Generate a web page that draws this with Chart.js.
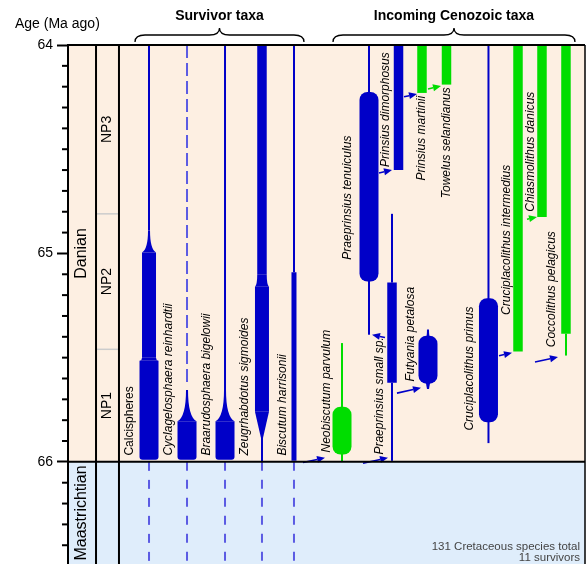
<!DOCTYPE html>
<html>
<head>
<meta charset="utf-8">
<script src="https://cdn.jsdelivr.net/npm/chart.js@4.4.1/dist/chart.umd.min.js"></script>
<style>
  html, body { margin: 0; padding: 0; background: #fff; }
  #wrap { width: 586px; height: 564px; }
</style>
</head>
<body>
<div id="wrap"><canvas id="rangeChart"></canvas></div>
<script>
// ---- data ----
const taxa = ["Calcispheres", "Cyclagelosphaera reinhardtii", "Braarudosphaera bigelowii",
  "Zeugrhabdotus sigmoides", "Biscutum harrisonii", "Neobiscutum parvulum",
  "Praeprinsius tenuiculus", "Praeprinsius small sp.", "Prinsius dimorphosus",
  "Prinsius martinii", "Futyania petalosa", "Towelus selandianus", "Cruciplacolithus primus",
  "Cruciplacolithus intermedius", "Chiasmolithus danicus", "Coccolithus pelagicus"];
const survivor = [true, true, true, true, true, false, false, false, false, false, false, false, false, false, false, false];

// range pieces: [top age, base age, abundance at top, abundance at base]  (0 = sporadic)
const ranges = [
  [[64, 64.89, 1, 1], [64.89, 64.995, 1, 4], [64.995, 65.5, 4, 4], [65.5, 65.515, 4, 5], [65.515, 65.99, 5, 5]],
  [[64, 65.64, 0, 0], [65.655, 65.805, 1, 5], [65.805, 65.99, 5, 5]],
  [[64, 65.655, 1, 1], [65.655, 65.805, 1, 5], [65.805, 65.99, 5, 5]],
  [[64, 65.1, 3, 3], [65.1, 65.16, 3, 4], [65.16, 65.76, 4, 4], [65.76, 65.885, 4, 1], [65.885, 66, 1, 1]],
  [[64, 65.09, 1, 1], [65.09, 65.995, 2, 2]],
  [[65.43, 65.75, 1, 1], [65.735, 65.965, 5, 5], [65.95, 66, 1, 1]],
  [[64, 64.24, 1, 1], [64.225, 65.135, 5, 5], [65.12, 65.39, 1, 1]],
  [[64.81, 65.14, 1, 1], [65.14, 65.62, 3, 3], [65.62, 65.995, 1, 1]],
  [[64, 64.6, 3, 3]],
  [[64, 64.23, 3, 3]],
  [[65.365, 65.41, 1, 2], [65.395, 65.625, 5, 5], [65.61, 65.65, 2, 1]],
  [[64, 64.19, 3, 3]],
  [[64, 65.23, 1, 1], [65.215, 65.81, 5, 5], [65.8, 65.91, 1, 1]],
  [[64, 65.47, 3, 3]],
  [[64, 64.825, 3, 3]],
  [[64, 65.385, 3, 3], [65.385, 65.49, 1, 1]]
];

// evolutionary links: [ancestor, descendant, age]
const arrows = [[4, 5, 65.98], [5, 7, 65.98], [7, 6, 65.39], [7, 10, 65.645], [6, 8, 64.60],
  [8, 9, 64.235], [9, 11, 64.197], [12, 13, 65.477], [13, 14, 64.825], [13, 15, 65.497]];

const stages = [["Danian", 64, 66], ["Maastrichtian", 66, 72.1]];
const zones = [["NP3", 64, 64.81], ["NP2", 64.81, 65.46], ["NP1", 65.46, 66]];
const ageLabels = [64, 65, 66];
const groups = [["Survivor taxa", 0, 4], ["Incoming Cenozoic taxa", 5, 15]];
const cretaceousTotal = 131, survivorCount = 11;

// ---- layout / style ----
const ageMax = 66.49;
const colEdges = [0, 5.42, 9.86];
const colX = [15.67, 23.02, 30.37, 37.52, 43.71, 53.0, 58.22, 62.67, 63.93, 68.47, 69.63, 73.21, 81.33, 87.04, 91.68, 96.32];
const labelPos = [[-19, 65.97], [-18, 65.97], [-18, 65.97], [-17, 65.97], [-11, 65.97], [-15, 65.955],
  [-21, 65.03], [-12, 65.965], [-12.5, 64.585], [0, 64.65], [-17, 65.615], [0.5, 64.735],
  [-18.5, 65.85], [-11, 65.295], [-11, 64.80], [-14, 65.45]];
const arrowGeom = [[-17, 22], [-4, 25], [3, -13], [-7, 24], [-6.5, 13], [-5, 13], [-5.5, 13], [-6, 13], [-5, 10], [-8, 23]];
const groupPad = [[-14, 10], [-9, 9]];
const BLUE = '#0000c8', GREEN = '#00dd00', DASHBLUE = '#5b5be3';
const taxonColour = [BLUE, BLUE, BLUE, BLUE, BLUE, GREEN, BLUE, BLUE, BLUE, GREEN, BLUE, GREEN, BLUE, GREEN, GREEN, GREEN];
const arrowColour = [BLUE, BLUE, BLUE, BLUE, BLUE, BLUE, GREEN, BLUE, GREEN, BLUE];
const capStyle = ['soft', 'soft', 'soft', '', '', 'round', 'round', '', '', '', 'round', '', 'round', '', '', ''];
const levelWidth = [2, 2, 5, 9.5, 14, 19];
const FONT = '"Liberation Sans", Arial, Helvetica, sans-serif';
const stageFill = ['#fdefe2', '#dfedfb'];

Chart.defaults.font.family = FONT;

const isMajor = v => Math.abs(v - Math.round(v)) < 1e-6 && ageLabels.includes(Math.round(v));

function drawTaxon(ctx, cx, y, pieces, cap, colour) {
  pieces.forEach((p, k) => {
    const [a0, a1, l0, l1] = p;
    const y0 = y.getPixelForValue(a0), y1 = y.getPixelForValue(a1);
    if (l0 === 0) {
      ctx.save();
      ctx.strokeStyle = DASHBLUE;
      ctx.lineWidth = 2;
      ctx.setLineDash([13, 5]);
      ctx.beginPath(); ctx.moveTo(cx, y0); ctx.lineTo(cx, y1); ctx.stroke();
      ctx.restore();
      return;
    }
    const h0 = levelWidth[l0] / 2, h1 = levelWidth[l1] / 2;
    ctx.fillStyle = colour;
    ctx.beginPath();
    if (cap === 'round' && l0 === 5 && l1 === 5) {
      ctx.roundRect(cx - h0, y0, 2 * h0, y1 - y0, 8);
    } else if (cap === 'soft' && k === pieces.length - 1) {
      ctx.roundRect(cx - h0, y0, 2 * h0, y1 - y0, [0, 0, 3, 3]);
    } else if (h1 > h0 + 1) {
      // flaring downwards: concave bell
      const yc = y0 + 0.85 * (y1 - y0);
      ctx.moveTo(cx - h0, y0); ctx.lineTo(cx + h0, y0);
      ctx.quadraticCurveTo(cx + h0, yc, cx + h1, y1);
      ctx.lineTo(cx - h1, y1);
      ctx.quadraticCurveTo(cx - h0, yc, cx - h0, y0);
      ctx.closePath();
    } else {
      ctx.moveTo(cx - h0, y0); ctx.lineTo(cx + h0, y0);
      ctx.lineTo(cx + h1, y1); ctx.lineTo(cx - h1, y1);
      ctx.closePath();
    }
    ctx.fill();
  });
}

function drawArrow(ctx, x0, y0, x1, y1, col) {
  const ang = Math.atan2(y1 - y0, x1 - x0), L = 8, W = 3.5;
  const bx = x1 - L * Math.cos(ang), by = y1 - L * Math.sin(ang);
  ctx.strokeStyle = col; ctx.fillStyle = col; ctx.lineWidth = 1.6;
  ctx.beginPath(); ctx.moveTo(x0, y0); ctx.lineTo(bx, by); ctx.stroke();
  ctx.beginPath();
  ctx.moveTo(x1, y1);
  ctx.lineTo(bx - W * Math.sin(ang), by + W * Math.cos(ang));
  ctx.lineTo(bx + W * Math.sin(ang), by - W * Math.cos(ang));
  ctx.closePath(); ctx.fill();
}

function brace(ctx, x0, x1, yEnd, yMid, yTip) {
  const xc = (x0 + x1) / 2;
  ctx.beginPath();
  ctx.moveTo(x0, yEnd);
  ctx.quadraticCurveTo(x0, yMid, x0 + 10, yMid);
  ctx.lineTo(xc - 10, yMid);
  ctx.quadraticCurveTo(xc, yMid, xc, yTip);
  ctx.quadraticCurveTo(xc, yMid, xc + 10, yMid);
  ctx.lineTo(x1 - 10, yMid);
  ctx.quadraticCurveTo(x1, yMid, x1, yEnd);
  ctx.stroke();
}

function vText(ctx, text, x, y, align) {
  ctx.save();
  ctx.translate(x, y);
  ctx.rotate(-Math.PI / 2);
  ctx.textAlign = align;
  ctx.textBaseline = 'middle';
  ctx.fillText(text, 0, 0);
  ctx.restore();
}

const rangePlugin = {
  id: 'ranges',
  beforeDatasetsDraw(chart) {
    const { ctx, chartArea: a, scales: { x, y } } = chart;
    ctx.save();
    stages.forEach(([name, top, base], i) => {
      const y0 = Math.max(a.top, y.getPixelForValue(top));
      const y1 = Math.min(a.bottom, y.getPixelForValue(base));
      ctx.fillStyle = stageFill[i];
      ctx.fillRect(a.left, y0, a.right - a.left, y1 - y0);
    });
    // zone boundaries inside the zone column
    ctx.strokeStyle = '#cccccc';
    ctx.lineWidth = 1.5;
    zones.slice(1).forEach(([name, top]) => {
      const yy = y.getPixelForValue(top);
      ctx.beginPath();
      ctx.moveTo(x.getPixelForValue(colEdges[1]), yy);
      ctx.lineTo(x.getPixelForValue(colEdges[2]), yy);
      ctx.stroke();
    });
    taxa.forEach((name, i) => {
      drawTaxon(ctx, x.getPixelForValue(colX[i]), y, ranges[i], capStyle[i], taxonColour[i]);
    });
    arrows.forEach(([from, to, age], k) => {
      const [dx, len] = arrowGeom[k];
      const x1 = x.getPixelForValue(colX[to]) + dx, y1 = y.getPixelForValue(age);
      drawArrow(ctx, x1 - len, y1 + Math.abs(len) * 0.22, x1, y1, arrowColour[k]);
    });
    ctx.restore();
  },
  afterDraw(chart) {
    const { ctx, chartArea: a, scales: { x, y } } = chart;
    ctx.save();
    // taxon names
    ctx.fillStyle = '#000';
    taxa.forEach((name, i) => {
      ctx.font = (i === 0 ? '' : 'italic ') + '12px ' + FONT;
      const [dx, age] = labelPos[i];
      vText(ctx, name, x.getPixelForValue(colX[i]) + dx, y.getPixelForValue(age), 'left');
    });
    // stage and zone names
    const cStage = (x.getPixelForValue(colEdges[0]) + x.getPixelForValue(colEdges[1])) / 2;
    const cZone = (x.getPixelForValue(colEdges[1]) + x.getPixelForValue(colEdges[2])) / 2;
    ctx.font = '16px ' + FONT;
    stages.forEach(([name, top, base]) => {
      const y0 = Math.max(a.top, y.getPixelForValue(top));
      const y1 = Math.min(a.bottom, y.getPixelForValue(base));
      vText(ctx, name, cStage, (y0 + y1) / 2, 'center');
    });
    ctx.font = '14px ' + FONT;
    zones.forEach(([name, top, base]) => {
      vText(ctx, name, cZone, (y.getPixelForValue(top) + y.getPixelForValue(base)) / 2, 'center');
    });
    // frame
    ctx.strokeStyle = '#000';
    ctx.lineWidth = 2;
    ctx.beginPath();
    ctx.moveTo(a.left, a.top); ctx.lineTo(a.right, a.top);
    const y66 = y.getPixelForValue(66);
    ctx.moveTo(a.left, y66); ctx.lineTo(a.right, y66);
    colEdges.forEach(e => {
      const xx = x.getPixelForValue(e);
      ctx.moveTo(xx, a.top); ctx.lineTo(xx, a.bottom);
    });
    ctx.stroke();
    ctx.lineWidth = 1.5;
    ctx.beginPath(); ctx.moveTo(a.right, a.top); ctx.lineTo(a.right, a.bottom); ctx.stroke();
    // minor ticks
    ctx.lineWidth = 2;
    y.ticks.forEach(t => {
      if (isMajor(t.value)) return;
      if (Math.abs(t.value * 10 - Math.round(t.value * 10)) > 1e-6) return;
      const yy = y.getPixelForValue(t.value);
      ctx.beginPath(); ctx.moveTo(a.left - 6, yy); ctx.lineTo(a.left, yy); ctx.stroke();
    });
    // axis title
    ctx.font = '14px ' + FONT;
    ctx.textAlign = 'left'; ctx.textBaseline = 'middle';
    ctx.fillText('Age (Ma ago)', 15, 24);
    // group braces
    ctx.lineWidth = 1.3;
    groups.forEach(([name, first, last], g) => {
      const x0 = x.getPixelForValue(colX[first]) + groupPad[g][0];
      const x1 = x.getPixelForValue(colX[last]) + groupPad[g][1];
      brace(ctx, x0, x1, a.top - 3, a.top - 10, a.top - 17);
      ctx.font = 'bold 14px ' + FONT;
      ctx.textAlign = 'center';
      ctx.fillText(name, (x0 + x1) / 2, 16);
    });
    // note
    ctx.font = '11.5px ' + FONT;
    ctx.fillStyle = '#444';
    ctx.textAlign = 'right';
    ctx.fillText(cretaceousTotal + ' Cretaceous species total', a.right - 5, 547);
    ctx.fillText(survivorCount + ' survivors', a.right - 5, 558);
    ctx.restore();
  }
};

// survivors continue into the Cretaceous
const cretaceousLines = taxa.map((name, i) => survivor[i] ? {
  label: name,
  data: [{ x: colX[i], y: 66 }, { x: colX[i], y: ageMax }],
  showLine: true,
  borderColor: DASHBLUE,
  borderWidth: 2,
  borderDash: [9, 9],
  pointRadius: 0
} : null).filter(Boolean);

new Chart(document.getElementById('rangeChart'), {
  type: 'scatter',
  data: { datasets: cretaceousLines },
  options: {
    responsive: true,
    maintainAspectRatio: false,
    animation: false,
    layout: { padding: { top: 45, right: 1, bottom: 0, left: 0 } },
    plugins: { legend: { display: false }, tooltip: { enabled: false } },
    scales: {
      x: { type: 'linear', min: 0, max: 100, display: false },
      y: {
        type: 'linear',
        reverse: true,
        min: 64,
        max: ageMax,
        position: 'left',
        afterFit(s) { s.width = 68; s.paddingTop = 0; s.paddingBottom = 0; },
        border: { display: true, color: '#000', width: 2 },
        grid: {
          drawOnChartArea: false,
          drawTicks: true,
          tickLength: 11,
          tickWidth: 2,
          tickColor: c => (c.tick && isMajor(c.tick.value)) ? '#000' : 'rgba(0,0,0,0)'
        },
        ticks: {
          stepSize: 0.1,
          autoSkip: false,
          padding: 4,
          color: '#000',
          font: { size: 14 },
          callback: v => isMajor(v) ? String(Math.round(v)) : ''
        }
      }
    }
  },
  plugins: [rangePlugin]
});
</script>
</body>
</html>
